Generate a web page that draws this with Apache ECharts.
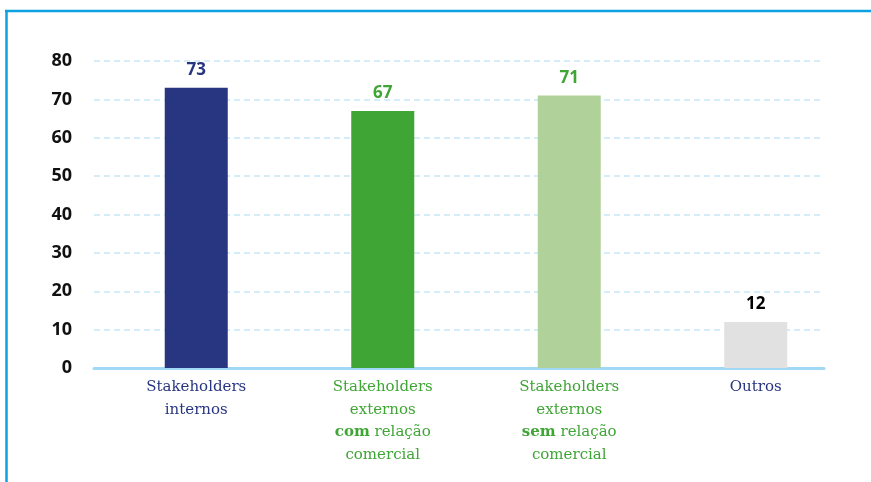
<!DOCTYPE html>
<html><head><meta charset="utf-8">
<script src="https://cdn.jsdelivr.net/npm/echarts@6/dist/echarts.min.js"></script>
<style>html,body{margin:0;padding:0;background:#fff}#c{width:871px;height:482px}</style>
</head><body><div id="c"></div>
<script>
const categories = ['Stakeholders\ninternos', 'Stakeholders\nexternos\n{b|com} relação\ncomercial', 'Stakeholders\nexternos\n{b|sem} relação\ncomercial', 'Outros'];
const values = [73, 67, 71, 12];
const barColors = ['#283580', '#3fa535', '#b0d29a', '#e1e1e1'];
const labelColors = ['#283580', '#3fa535', '#3fa535', '#000000'];
const catColors = ['#283580', '#3fa535', '#3fa535', '#283580'];
const yTicks = [0, 10, 20, 30, 40, 50, 60, 70, 80];

const chart = echarts.init(document.getElementById('c'));
chart.setOption({
  animation: false,
  grid: [
    {left: 94, right: 47, top: 61, bottom: 114},
    {left: 103, right: 22, top: 61, bottom: 114}
  ],
  xAxis: [
    {gridIndex: 0, type: 'category', data: ['a'], axisLine: {show: true, onZero: false, lineStyle: {color: '#9fd9f6', width: 3}}, axisTick: {show: false}, axisLabel: {show: false}},
    {gridIndex: 1, type: 'category', data: categories, axisLine: {show: false}, axisTick: {show: false},
      axisLabel: {interval: 0, margin: 8, fontFamily: 'DejaVu Serif', fontSize: 15, lineHeight: 22.5,
        color: (v, i) => catColors[i],
        rich: {b: {fontWeight: 'bold', fontFamily: 'DejaVu Serif', fontSize: 15, color: '#3fa535', lineHeight: 22.5}}}}
  ],
  yAxis: [
    {gridIndex: 0, type: 'value', min: 0, max: 80, interval: 10,
      axisLine: {show: false}, axisTick: {show: false},
      axisLabel: {margin: 22, fontFamily: 'Open Sans', fontWeight: 'bold', fontSize: 18, color: '#111',
        formatter: v => yTicks.includes(v) ? String(v) : ''},
      splitLine: {show: true, lineStyle: {color: '#c6e8f8', type: [6, 4], width: 1.5}}},
    {gridIndex: 1, type: 'value', min: 0, max: 80, interval: 10, show: false}
  ],
  series: [{
    type: 'bar', xAxisIndex: 1, yAxisIndex: 1, barWidth: 63,
    data: values.map((v, i) => ({value: v, itemStyle: {color: barColors[i]},
      label: {color: labelColors[i]}})),
    label: {show: true, position: 'top', distance: 9, fontFamily: 'Open Sans', fontWeight: 'bold', fontSize: 17}
  }],
  graphic: [
    {type: 'line', shape: {x1: 5, y1: 11, x2: 871, y2: 11}, style: {stroke: '#0ea0e0', lineWidth: 2.5}},
    {type: 'line', shape: {x1: 6.5, y1: 10, x2: 6.5, y2: 482}, style: {stroke: '#0ea0e0', lineWidth: 2.5}}
  ]
});
</script></body></html>
